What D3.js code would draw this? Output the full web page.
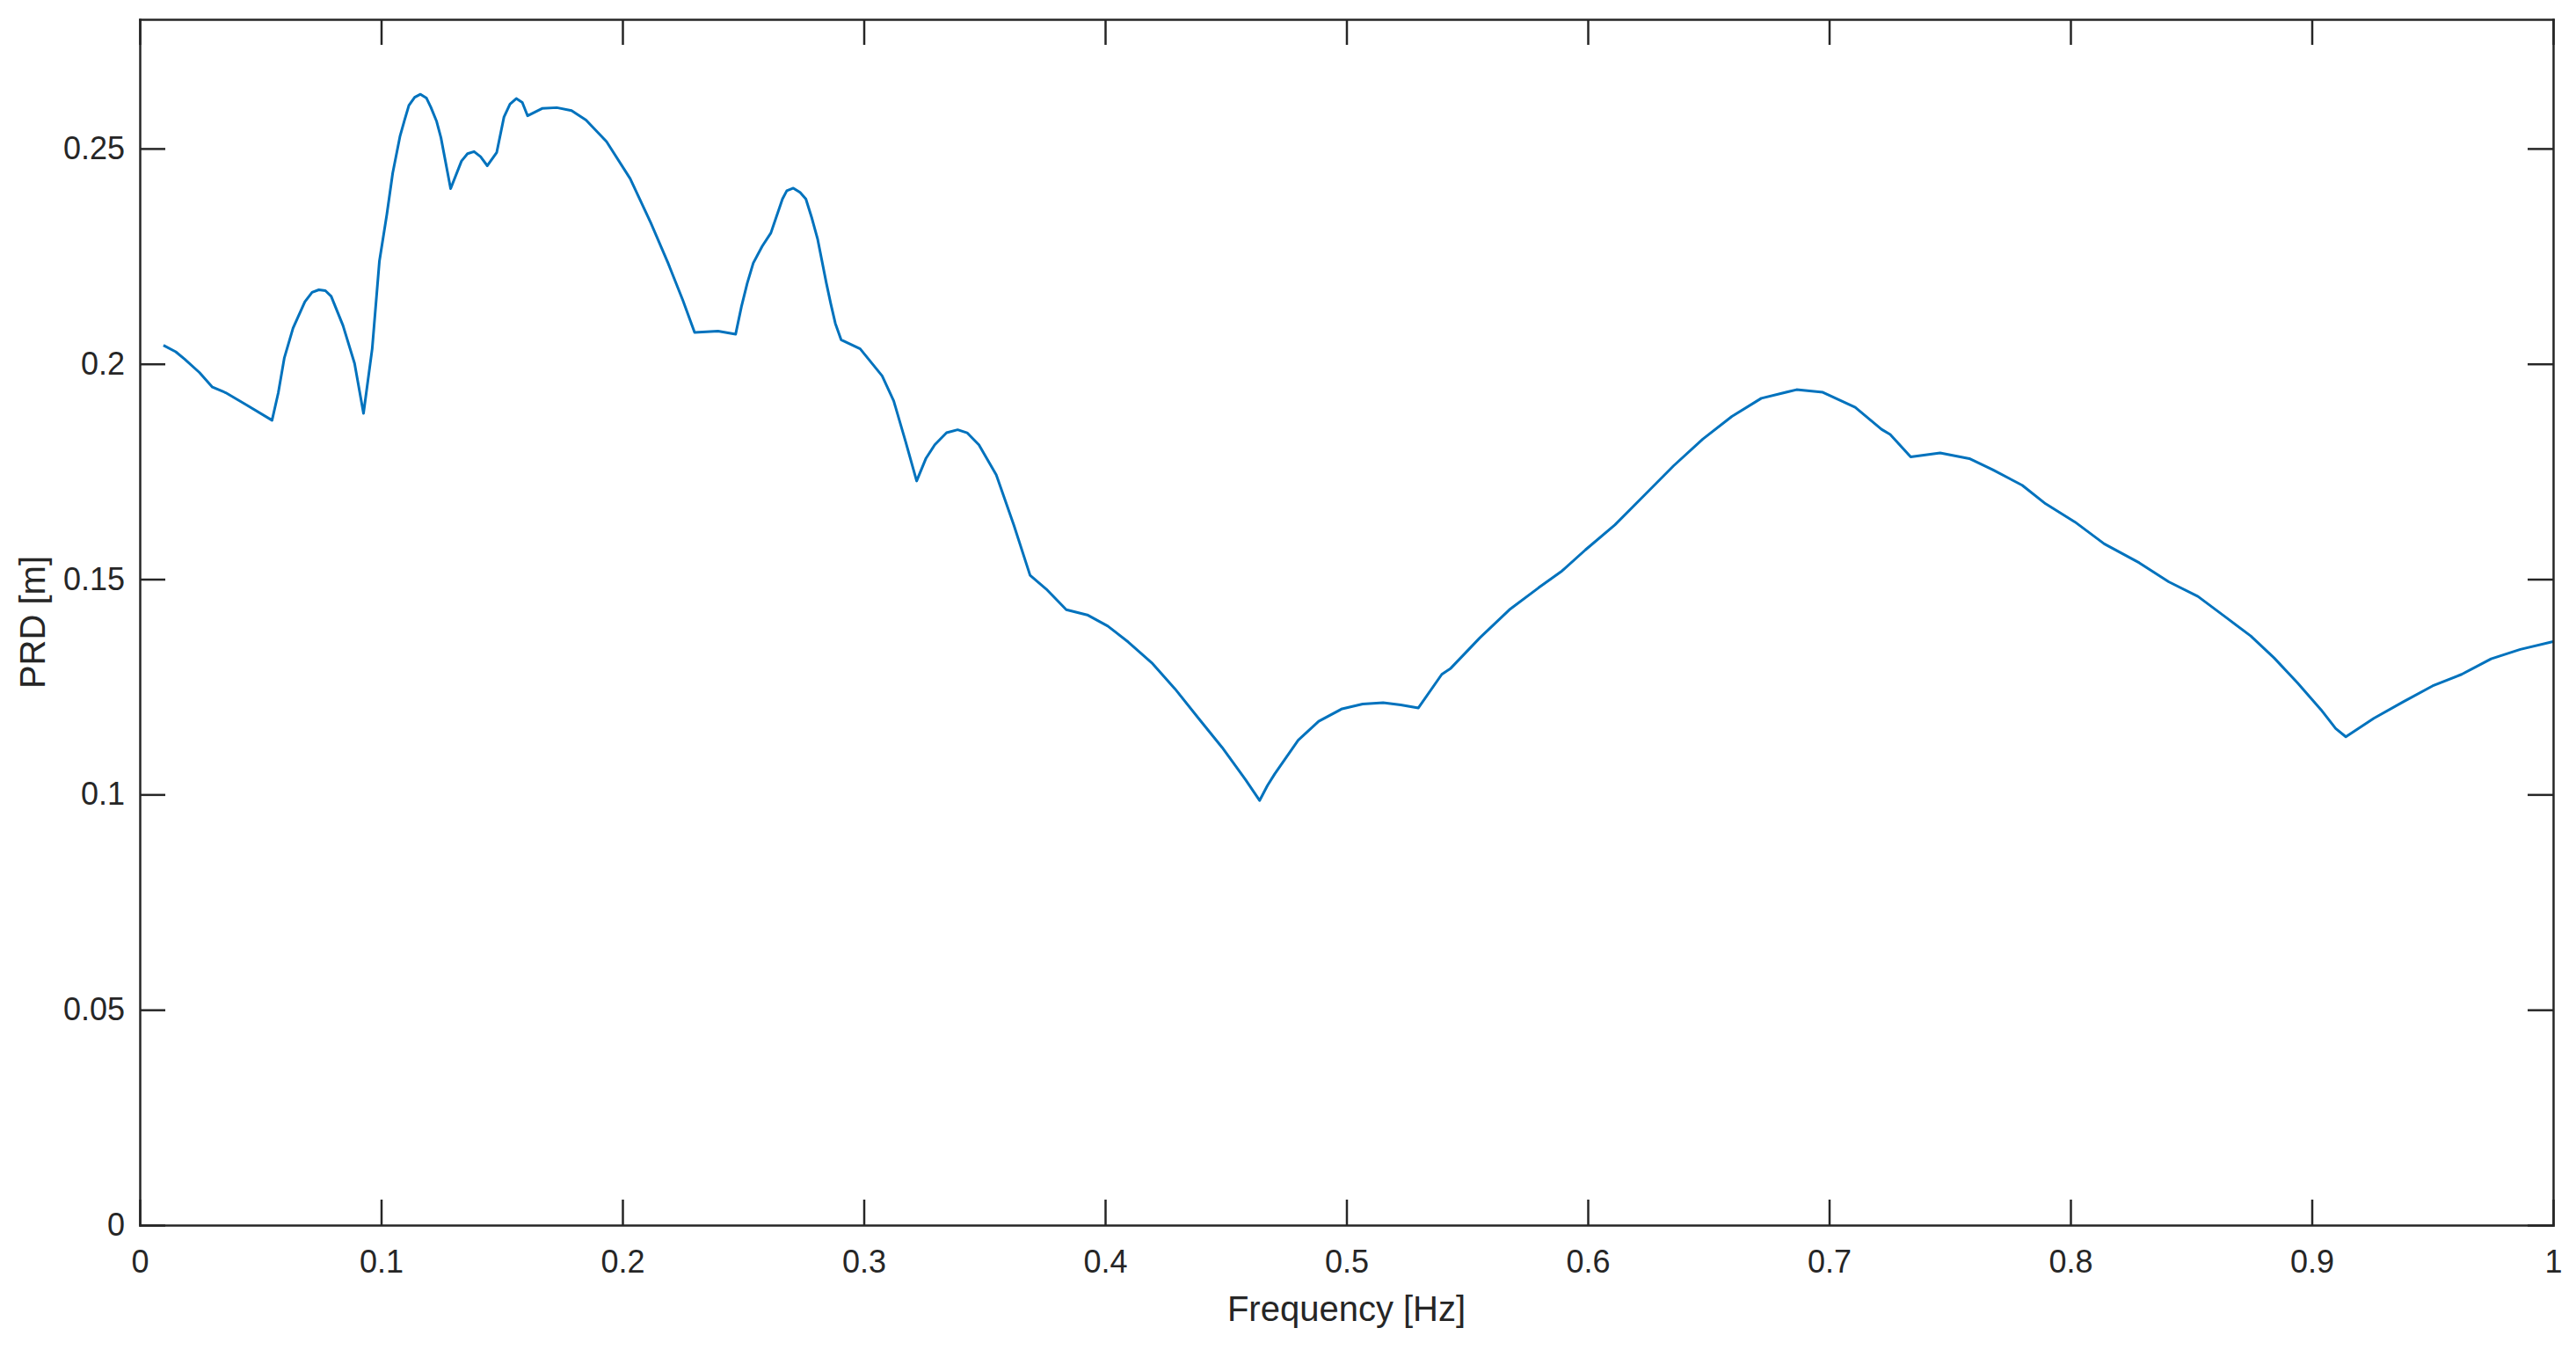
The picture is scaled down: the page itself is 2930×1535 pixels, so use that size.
<!DOCTYPE html>
<html>
<head>
<meta charset="utf-8">
<script src="https://cdn.jsdelivr.net/npm/d3@7"></script>
<style>
  html, body { margin: 0; padding: 0; background: #fff; }
  svg { display: block; font-family: "Liberation Sans", Arial, Helvetica, sans-serif; }
  .axis path, .axis line { stroke: #262626; stroke-width: 2.5; }
  .axis text { fill: #262626; font-size: 36px; }
  .label { fill: #262626; font-size: 40px; }
</style>
</head>
<body>
<div id="vis"></div>
<script>
// data: frequency [Hz] and PRD [m]
var freq = [
  0.0098, 0.0149, 0.0186, 0.0247, 0.0301, 0.0356, 0.0441, 0.0548, 0.0574, 0.0599,
  0.0635, 0.0684, 0.0714, 0.0742, 0.0769, 0.0793, 0.0842, 0.0890, 0.0927, 0.0963,
  0.0993, 0.1024, 0.1048, 0.1078, 0.1097, 0.1115, 0.1139, 0.1163, 0.1188, 0.1206,
  0.1230, 0.1248, 0.1288, 0.1333, 0.1358, 0.1385, 0.1412, 0.1440, 0.1479, 0.1509,
  0.1534, 0.1560, 0.1585, 0.1607, 0.1667, 0.1728, 0.1789, 0.1849, 0.1934, 0.2032,
  0.2117, 0.2189, 0.2250, 0.2299, 0.2396, 0.2469, 0.2493, 0.2517, 0.2542, 0.2579,
  0.2615, 0.2663, 0.2681, 0.2708, 0.2736, 0.2760, 0.2784, 0.2809, 0.2845, 0.2863,
  0.2882, 0.2906, 0.2985, 0.3076, 0.3124, 0.3173, 0.3219, 0.3258, 0.3294, 0.3343,
  0.3389, 0.3428, 0.3477, 0.3549, 0.3622, 0.3689, 0.3756, 0.3839, 0.3926, 0.4011,
  0.4096, 0.4193, 0.4290, 0.4387, 0.4485, 0.4582, 0.4640, 0.4673, 0.4703, 0.4800,
  0.4885, 0.4982, 0.5067, 0.5152, 0.5225, 0.5298, 0.5395, 0.5432, 0.5553, 0.5675,
  0.5796, 0.5893, 0.5990, 0.6112, 0.6233, 0.6355, 0.6476, 0.6597, 0.6719, 0.6865,
  0.6974, 0.7108, 0.7217, 0.7253, 0.7338, 0.7460, 0.7581, 0.7678, 0.7800, 0.7897,
  0.8018, 0.8140, 0.8285, 0.8407, 0.8528, 0.8650, 0.8747, 0.8844, 0.8941, 0.9038,
  0.9099, 0.9141, 0.9257, 0.9378, 0.9500, 0.9621, 0.9743, 0.9864, 1.0000
];
var prd = [
  0.2043, 0.2028, 0.2011, 0.1980, 0.1946, 0.1933, 0.1905, 0.1869, 0.1933, 0.2014,
  0.2083, 0.2144, 0.2166, 0.2172, 0.2170, 0.2157, 0.2089, 0.2001, 0.1885, 0.2035,
  0.2239, 0.2348, 0.2443, 0.2528, 0.2566, 0.2600, 0.2619, 0.2626, 0.2617, 0.2596,
  0.2563, 0.2525, 0.2407, 0.2471, 0.2488, 0.2493, 0.2481, 0.2460, 0.2491, 0.2573,
  0.2603, 0.2616, 0.2607, 0.2576, 0.2593, 0.2595, 0.2588, 0.2566, 0.2516, 0.2430,
  0.2328, 0.2234, 0.2148, 0.2073, 0.2076, 0.2069, 0.2133, 0.2187, 0.2234, 0.2273,
  0.2304, 0.2383, 0.2402, 0.2408, 0.2398, 0.2383, 0.2340, 0.2289, 0.2187, 0.2140,
  0.2094, 0.2056, 0.2035, 0.1972, 0.1914, 0.1820, 0.1728, 0.1781, 0.1812, 0.1840,
  0.1847, 0.1840, 0.1812, 0.1742, 0.1625, 0.1509, 0.1477, 0.1429, 0.1417, 0.1391,
  0.1354, 0.1306, 0.1245, 0.1177, 0.1109, 0.1034, 0.0986, 0.1021, 0.1048, 0.1126,
  0.1170, 0.1199, 0.1210, 0.1213, 0.1208, 0.1201, 0.1279, 0.1293, 0.1364, 0.1429,
  0.1480, 0.1519, 0.1568, 0.1626, 0.1694, 0.1763, 0.1825, 0.1878, 0.1920, 0.1940,
  0.1934, 0.1899, 0.1848, 0.1836, 0.1784, 0.1793, 0.1780, 0.1754, 0.1718, 0.1675,
  0.1633, 0.1582, 0.1538, 0.1494, 0.1460, 0.1409, 0.1368, 0.1317, 0.1259, 0.1197,
  0.1153, 0.1134, 0.1177, 0.1215, 0.1252, 0.1279, 0.1315, 0.1337, 0.1355
];

var xTicks = [0, 0.1, 0.2, 0.3, 0.4, 0.5, 0.6, 0.7, 0.8, 0.9, 1];
var yTicks = [0, 0.05, 0.1, 0.15, 0.2, 0.25];
var xDomain = [0, 1];
var yDomain = [0, 0.28];

var xLabel = 'Frequency [Hz]';
var yLabel = 'PRD [m]';

// sizes
var totalWidth = 2930;
var totalHeight = 1535;
var margin = { top: 22, left: 159, bottom: 142, right: 26 };
var width = totalWidth - margin.left - margin.right;
var height = totalHeight - margin.top - margin.bottom;
var tickLen = 29;

var svg = d3.select('#vis').append('svg')
  .attr('width', totalWidth)
  .attr('height', totalHeight);

var g = svg.append('g')
  .attr('transform', 'translate(' + margin.left + ',' + margin.top + ')');

var x = d3.scaleLinear().domain(xDomain).range([0, width]);
var y = d3.scaleLinear().domain(yDomain).range([height, 0]);

var fmt = d3.format('~g');

// the line goes under the box
var points = freq.map(function (f, i) { return [f, prd[i]]; });
var line = d3.line()
  .x(function (d) { return x(d[0]); })
  .y(function (d) { return y(d[1]); });

g.append('path')
  .datum(points)
  .attr('d', line)
  .attr('fill', 'none')
  .attr('stroke', '#0072BD')
  .attr('stroke-width', 3)
  .attr('stroke-linejoin', 'round');

// bottom and left axes with labels, ticks pointing in
g.append('g')
  .attr('class', 'axis')
  .attr('transform', 'translate(0,' + height + ')')
  .call(d3.axisBottom(x).tickValues(xTicks).tickFormat(fmt)
    .tickSizeInner(-tickLen).tickSizeOuter(0).tickPadding(28));

g.append('g')
  .attr('class', 'axis')
  .call(d3.axisLeft(y).tickValues(yTicks).tickFormat(fmt)
    .tickSizeInner(-tickLen).tickSizeOuter(0).tickPadding(17));

// top and right make the box
g.append('g')
  .attr('class', 'axis')
  .call(d3.axisTop(x).tickValues(xTicks).tickFormat('')
    .tickSizeInner(-tickLen).tickSizeOuter(0));

g.append('g')
  .attr('class', 'axis')
  .attr('transform', 'translate(' + width + ',0)')
  .call(d3.axisRight(y).tickValues(yTicks).tickFormat('')
    .tickSizeInner(-tickLen).tickSizeOuter(0));

g.selectAll('.axis .domain').attr('stroke-linecap', 'square');
g.selectAll('.axis').attr('font-size', null).attr('font-family', null);

// axis titles
svg.append('text')
  .attr('class', 'label')
  .attr('x', margin.left + width / 2)
  .attr('y', 1502)
  .attr('text-anchor', 'middle')
  .text(xLabel);

svg.append('text')
  .attr('class', 'label')
  .attr('transform', 'translate(51,' + (margin.top + height / 2) + ') rotate(-90)')
  .attr('text-anchor', 'middle')
  .text(yLabel);
</script>
</body>
</html>
